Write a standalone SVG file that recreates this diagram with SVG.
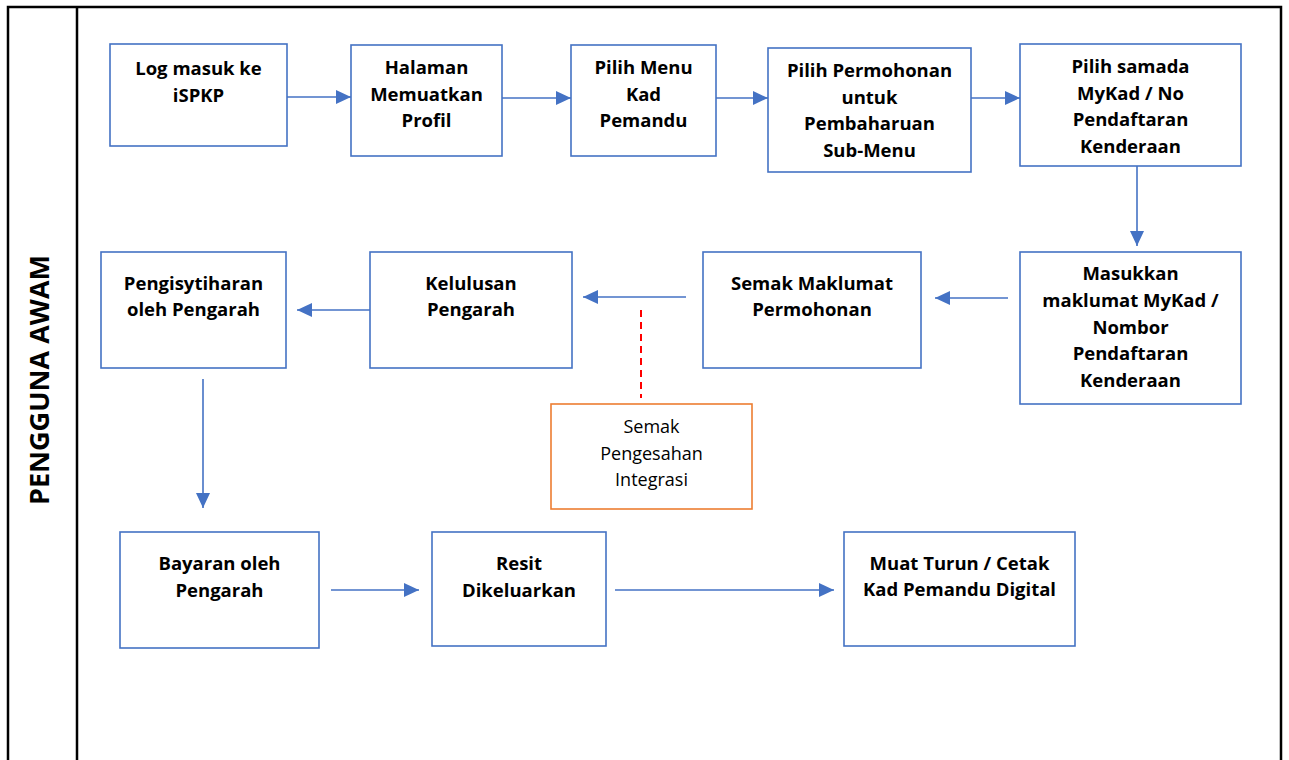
<svg xmlns="http://www.w3.org/2000/svg" width="1289" height="760" viewBox="0 0 1289 760">
<style>
.lane{stroke:#000;stroke-width:2.5;fill:none}
.box{fill:#fff;stroke:#4472C4;stroke-width:1.6}
.obox{fill:#fff;stroke:#ED7D31;stroke-width:1.6}
.t{font-family:"Open Sans","Liberation Sans",sans-serif;font-weight:700;font-size:18.5px;fill:#000;text-anchor:middle}
.tr{font-family:"Open Sans","Liberation Sans",sans-serif;font-weight:400;font-size:18px;fill:#000;text-anchor:middle}
.lbl{font-family:"Open Sans","Liberation Sans",sans-serif;font-weight:700;font-size:27px;fill:#000;text-anchor:middle}
.c{stroke:#4472C4;stroke-width:1.6;fill:none;marker-end:url(#ah)}
.d{stroke:#FF0000;stroke-width:2;stroke-dasharray:7,5;fill:none}
</style>
<defs>
<marker id="ah" markerUnits="userSpaceOnUse" markerWidth="16" markerHeight="16" refX="15" refY="7" orient="auto">
<path d="M0,0 L15,7 L0,14 z" fill="#4472C4"/>
</marker>
</defs>
<rect width="1289" height="760" fill="#fff"/>
<g id="lane">
<path class="lane" d="M8,760 V7 H1281 V760 M77,7 V760"/>
<text class="lbl" transform="translate(49,380) rotate(-90)">PENGGUNA AWAM</text>
</g>
<g id="connectors">
<line class="c" x1="287" y1="97" x2="351" y2="97"/>
<line class="c" x1="502" y1="98" x2="571" y2="98"/>
<line class="c" x1="716" y1="98" x2="768" y2="98"/>
<line class="c" x1="971" y1="98" x2="1020" y2="98"/>
<line class="c" x1="1137" y1="166" x2="1137" y2="246"/>
<line class="c" x1="1008" y1="298" x2="935" y2="298"/>
<line class="c" x1="686" y1="297" x2="583" y2="297"/>
<line class="c" x1="370" y1="310" x2="297" y2="310"/>
<line class="c" x1="203" y1="379" x2="203" y2="508"/>
<line class="c" x1="331" y1="590" x2="419" y2="590"/>
<line class="c" x1="615" y1="590" x2="834" y2="590"/>
<line class="d" x1="641" y1="310" x2="641" y2="398"/>
</g>
<g id="n1"><rect class="box" x="110" y="44" width="177" height="102"/>
<text class="t"><tspan x="198.5" y="75">Log masuk ke</tspan><tspan x="198.5" y="102">iSPKP</tspan></text></g>
<g id="n2"><rect class="box" x="351" y="45" width="151" height="111"/>
<text class="t"><tspan x="426.5" y="74">Halaman</tspan><tspan x="426.5" y="100.5">Memuatkan</tspan><tspan x="426.5" y="127">Profil</tspan></text></g>
<g id="n3"><rect class="box" x="571" y="45" width="145" height="111"/>
<text class="t"><tspan x="643.5" y="74">Pilih Menu</tspan><tspan x="643.5" y="100.5">Kad</tspan><tspan x="643.5" y="127">Pemandu</tspan></text></g>
<g id="n4"><rect class="box" x="768" y="48" width="203" height="124"/>
<text class="t"><tspan x="869.5" y="77">Pilih Permohonan</tspan><tspan x="869.5" y="103.5">untuk</tspan><tspan x="869.5" y="130">Pembaharuan</tspan><tspan x="869.5" y="156.5">Sub-Menu</tspan></text></g>
<g id="n5"><rect class="box" x="1020" y="44" width="221" height="122"/>
<text class="t"><tspan x="1130.5" y="73">Pilih samada</tspan><tspan x="1130.5" y="99.5">MyKad / No</tspan><tspan x="1130.5" y="126">Pendaftaran</tspan><tspan x="1130.5" y="152.5">Kenderaan</tspan></text></g>
<g id="n6"><rect class="box" x="1020" y="252" width="221" height="152"/>
<text class="t"><tspan x="1130.5" y="279.5">Masukkan</tspan><tspan x="1130.5" y="306.5">maklumat MyKad /</tspan><tspan x="1130.5" y="333.5">Nombor</tspan><tspan x="1130.5" y="360">Pendaftaran</tspan><tspan x="1130.5" y="386.5">Kenderaan</tspan></text></g>
<g id="n7"><rect class="box" x="703" y="252" width="218" height="116"/>
<text class="t"><tspan x="812" y="290">Semak Maklumat</tspan><tspan x="812" y="316">Permohonan</tspan></text></g>
<g id="n8"><rect class="box" x="370" y="252" width="202" height="116"/>
<text class="t"><tspan x="471" y="290">Kelulusan</tspan><tspan x="471" y="316">Pengarah</tspan></text></g>
<g id="n9"><rect class="box" x="101" y="252" width="185" height="116"/>
<text class="t"><tspan x="193.5" y="290">Pengisytiharan</tspan><tspan x="193.5" y="316">oleh Pengarah</tspan></text></g>
<g id="n10"><rect class="obox" x="551" y="404" width="201" height="105"/>
<text class="tr"><tspan x="651.5" y="433">Semak</tspan><tspan x="651.5" y="459.5">Pengesahan</tspan><tspan x="651.5" y="486">Integrasi</tspan></text></g>
<g id="n11"><rect class="box" x="120" y="532" width="199" height="116"/>
<text class="t"><tspan x="219.5" y="570">Bayaran oleh</tspan><tspan x="219.5" y="597">Pengarah</tspan></text></g>
<g id="n12"><rect class="box" x="432" y="532" width="174" height="114"/>
<text class="t"><tspan x="519" y="569.5">Resit</tspan><tspan x="519" y="596.5">Dikeluarkan</tspan></text></g>
<g id="n13"><rect class="box" x="844" y="532" width="231" height="114"/>
<text class="t"><tspan x="959.5" y="569.5">Muat Turun / Cetak</tspan><tspan x="959.5" y="596">Kad Pemandu Digital</tspan></text></g>
</svg>
